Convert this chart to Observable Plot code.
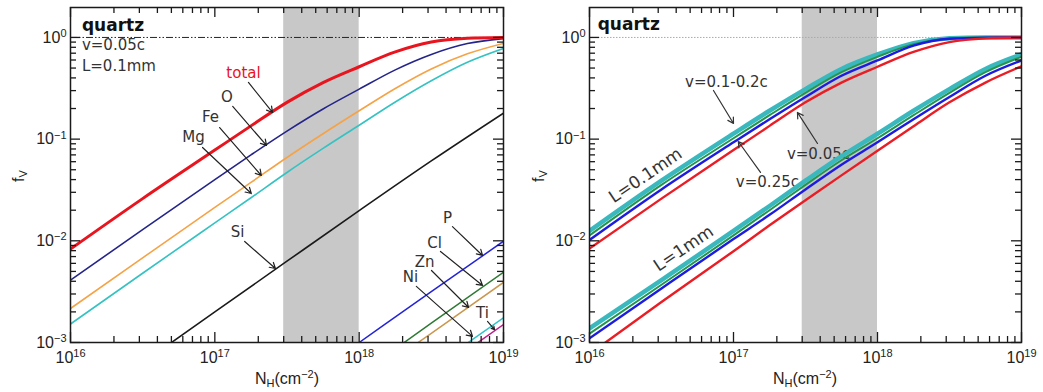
<!DOCTYPE html>
<html><head><meta charset="utf-8">
<script src="https://cdn.jsdelivr.net/npm/d3@7"></script>
<script src="https://cdn.jsdelivr.net/npm/@observablehq/plot@0.6"></script>
<style>
html,body{margin:0;padding:0;background:#fff;}
#wrap{position:relative;width:1043px;height:392px;overflow:hidden;background:#fff;}
#left{position:absolute;left:0;top:0;}
#right{position:absolute;left:521px;top:0;}
</style></head>
<body><div id="wrap"><div id="left"></div><div id="right"></div></div>
<script>
// ---------- data ----------
// column density grid (cm^-2)
const NH = [1e16, 3.16e16, 1e17, 1.78e17, 3.16e17, 5.62e17, 1e18, 1.78e18, 3.16e18, 5.62e18, 1e19];

// left panel: v=0.05c, L=0.1mm, per element
const fTotal = [0.0083, 0.026, 0.078, 0.135, 0.23, 0.36, 0.515, 0.72, 0.90, 0.98, 1.0];
const fO     = [0.0041, 0.0129, 0.040, 0.070, 0.12, 0.198, 0.31, 0.48, 0.68, 0.87, 0.975];
const fFe    = [0.00216, 0.0068, 0.0213, 0.0375, 0.066, 0.113, 0.19, 0.315, 0.49, 0.69, 0.875];
const fMg    = [0.00152, 0.0048, 0.0150, 0.0265, 0.047, 0.081, 0.137, 0.232, 0.375, 0.57, 0.78];
const nhSi = [3.16e16, 1e17, 3.16e17, 1e18, 3.16e18, 1e19];
const fSi  = [0.00063, 0.002, 0.0063, 0.0198, 0.061, 0.18];
const nhP = [6.3e17, 1e18, 3.16e18, 1e19];   const fP  = [0.00063, 0.001, 0.00316, 0.0099];
const nhCl = [1.26e18, 3.16e18, 1e19];       const fCl = [0.00061, 0.00155, 0.0049];
const nhZn = [1.58e18, 3.16e18, 1e19];       const fZn = [0.00062, 0.00123, 0.0039];
const nhNi = [3.98e18, 1e19];                const fNi = [0.0007, 0.00175];
const nhTi = [3.98e18, 1e19];                const fTi = [0.0006, 0.0015];

// right panel: velocities, L = 0.1 mm and L = 1 mm
const fV005_L01 = [0.0084, 0.026, 0.078, 0.135, 0.23, 0.36, 0.515, 0.72, 0.90, 0.98, 1.0];
const fV025_L01 = [0.0102, 0.032, 0.093, 0.157, 0.26, 0.42, 0.594, 0.83, 0.97, 0.997, 1.0];
const fV02_L01  = [0.0113, 0.0355, 0.102, 0.172, 0.285, 0.455, 0.645, 0.86, 0.975, 0.998, 1.0];
const fV01_L01  = [0.0125, 0.039, 0.113, 0.19, 0.31, 0.49, 0.68, 0.88, 0.98, 0.999, 1.0];
const fV005_L1 = [0.00077, 0.0025, 0.0079, 0.0142, 0.025, 0.044, 0.077, 0.134, 0.23, 0.36, 0.52];
const fV025_L1 = [0.0011, 0.0034, 0.0104, 0.018, 0.032, 0.056, 0.093, 0.157, 0.26, 0.42, 0.594];
const fV02_L1  = [0.00122, 0.0037, 0.0113, 0.020, 0.0355, 0.062, 0.102, 0.172, 0.285, 0.455, 0.645];
const fV01_L1  = [0.00138, 0.0041, 0.0125, 0.022, 0.039, 0.068, 0.113, 0.19, 0.31, 0.49, 0.68];

// shaded band (cm^-2)
const band = [{x1: 3e17, x2: 1e18}];

// annotations (data coordinates)
const leftLabels = ["total", "O", "Fe", "Mg", "Si", "P", "Cl", "Zn", "Ni", "Ti"];
const leftLabelN = [1.58e17, 1.21e17, 9.33e16, 7.11e16, 1.44e17, 4.09e18, 3.33e18, 2.84e18, 2.27e18, 7.16e18];
const leftLabelF = [0.443, 0.257, 0.163, 0.104, 0.0121, 0.0166, 0.00942, 0.00612, 0.00436, 0.00193];
const leftArrowN1 = [1.71e17, 1.33e17, 1.08e17, 8.22e16, 1.61e17, 4.43e18, 3.66e18, 3.17e18, 2.49e18, 7.75e18];
const leftArrowF1 = [0.361, 0.210, 0.130, 0.0828, 0.00985, 0.0138, 0.00786, 0.00511, 0.00356, 0.00161];
const leftArrowN2 = [2.51e17, 2.28e17, 2.10e17, 1.79e17, 2.63e17, 7.16e18, 7.16e18, 5.73e18, 6.10e18, 8.67e18];
const leftArrowF2 = [0.183, 0.0867, 0.0439, 0.0292, 0.00534, 0.00718, 0.00364, 0.00221, 0.00115, 0.00134];
const leftInfo = ["v=0.05c", "L=0.1mm"];
const leftInfoN = [1.2e16, 1.2e16];
const leftInfoF = [0.834, 0.519];

const rightLabels = ["v=0.1-0.2c", "v=0.25c", "v=0.05c"];
const rightLabelN = [8.93e16, 1.72e17, 3.89e17];
const rightLabelF = [0.361, 0.0375, 0.0707];
const rightArrowN1 = [7.26e16, 1.54e17, 3.83e17];
const rightArrowF1 = [0.301, 0.047, 0.0906];
const rightArrowN2 = [1.0e17, 1.08e17, 2.78e17];
const rightArrowF2 = [0.1426, 0.0948, 0.183];
const rightRot = ["L=0.1mm", "L=1mm"];
const rightRotN = [2.45e16, 4.5e16];
const rightRotF = [0.0439, 0.0084];

const title = "quartz";
const titleN = [1.2e16, 1.14e16];
const titleF = [1.30, 1.33];

const xMajor = [1e16, 1e17, 1e18, 1e19];
const yMajor = [1e-3, 1e-2, 1e-1, 1];
const minorDigits = [2, 3, 4, 5, 6, 7, 8, 9];
const xMinor = [1e16, 1e17, 1e18].flatMap(d => minorDigits.map(m => m * d));
const yMinor = [1e-3, 1e-2, 1e-1].flatMap(d => minorDigits.map(m => m * d));

// ---------- helpers ----------
const H = 392, MT = 7, MB = 50;
const fmt = d => "10^" + String(Math.round(Math.log10(d))).replace("-", "\u2212");
const rows = (xs, ys) => xs.map((x, i) => ({x, y: ys[i]}));
const SANS = "DejaVu Sans, Verdana, sans-serif";
const HELV = "Liberation Sans, Arial, Helvetica, sans-serif";

function frameMarks(width, mL, mR) {
  const fh = H - MT - MB, fw = width - mL - mR;
  const s = {stroke: "#1a1a1a", strokeWidth: 1.3};
  return [
    Plot.tickX(xMajor, {x: d => d, insetTop: fh - 10, ...s}),
    Plot.tickX(xMajor, {x: d => d, insetBottom: fh - 10, ...s}),
    Plot.tickX(xMinor, {x: d => d, insetTop: fh - 6, ...s}),
    Plot.tickX(xMinor, {x: d => d, insetBottom: fh - 6, ...s}),
    Plot.tickY(yMajor, {y: d => d, insetRight: fw - 10, ...s}),
    Plot.tickY(yMajor, {y: d => d, insetLeft: fw - 10, ...s}),
    Plot.tickY(yMinor, {y: d => d, insetRight: fw - 6, ...s}),
    Plot.tickY(yMinor, {y: d => d, insetLeft: fw - 6, ...s}),
    Plot.frame({stroke: "#1a1a1a", strokeWidth: 1.5}),
    Plot.axisX(xMajor, {tickSize: 0, tickPadding: 9, tickFormat: fmt, fontSize: 16, fontFamily: HELV, fill: "#222", label: null}),
    Plot.axisY(yMajor, {tickSize: 0, tickPadding: 4, tickFormat: fmt, fontSize: 16, fontFamily: HELV, fill: "#222", label: null})
  ];
}

function panel(width, mL, mR, marks) {
  return Plot.plot({
    width, height: H, marginLeft: mL, marginRight: mR, marginTop: MT, marginBottom: MB,
    x: {type: "log", domain: [1e16, 1e19]},
    y: {type: "log", domain: [1e-3, 1.97]},
    style: {background: "white", fontFamily: HELV, overflow: "visible"},
    marks: [...marks, ...frameMarks(width, mL, mR)]
  });
}

// turn "10^k" tick labels into 10 with a real superscript
function superscriptTicks(svg) {
  d3.select(svg).selectAll('g[aria-label="x-axis tick label"] text, g[aria-label="y-axis tick label"] text').each(function () {
    const s = this.textContent;
    const parts = s.split("^");
    if (parts.length !== 2) return;
    const el = d3.select(this);
    el.text(null);
    el.append("tspan").text(parts[0]);
    el.append("tspan").attr("dy", "-0.5em").attr("font-size", 11).text(parts[1]);
  });
}

function addAxisLabels(svg, xc, fx) {
  const g = d3.select(svg);
  const t = g.append("text").attr("x", xc).attr("y", 384).attr("text-anchor", "middle")
    .attr("font-family", HELV).attr("font-size", 16).attr("fill", "#222");
  t.append("tspan").text("N");
  t.append("tspan").attr("dy", 3).attr("font-size", 11).text("H");
  t.append("tspan").attr("dy", -3).text("(cm");
  t.append("tspan").attr("dy", -6).attr("font-size", 11).text("\u22122");
  t.append("tspan").attr("dy", 6).text(")");
  const y = g.append("text").attr("transform", `translate(${fx},176) rotate(-90)`).attr("text-anchor", "middle")
    .attr("font-family", HELV).attr("font-size", 16).attr("fill", "#222");
  y.append("tspan").text("f");
  y.append("tspan").attr("dy", 3).attr("font-size", 11).text("V");
}

const line = (data, stroke, strokeWidth) => Plot.line(data, {x: "x", y: "y", stroke, strokeWidth, curve: "monotone-x", clip: true});
const idx = a => a.map((_, i) => i);

// ---------- left panel ----------
const leftMarks = [
  Plot.rect(band, {x1: "x1", x2: "x2", fill: "#c8c8c8"}),
  Plot.ruleY([1], {stroke: "#222", strokeWidth: 1, strokeDasharray: "7,2,1.5,2,1.5,2"}),
  line(rows(nhSi, fSi), "#1a1a1a", 1.6),
  line(rows(nhP, fP), "#2323d8", 1.5),
  line(rows(nhCl, fCl), "#2e7a34", 1.5),
  line(rows(nhZn, fZn), "#c9974e", 1.5),
  line(rows(nhNi, fNi), "#2ec3c8", 1.5),
  line(rows(nhTi, fTi), "#c0208c", 1.5),
  line(rows(NH, fMg), "#35c2c2", 1.6),
  line(rows(NH, fFe), "#f5a346", 1.6),
  line(rows(NH, fO), "#24248a", 1.6),
  line(rows(NH, fTotal), "#e8141e", 3),
  Plot.arrow(idx(leftLabels), {x1: i => leftArrowN1[i], y1: i => leftArrowF1[i], x2: i => leftArrowN2[i], y2: i => leftArrowF2[i], stroke: "#222", strokeWidth: 1.2, headLength: 8}),
  Plot.text(idx(leftLabels), {x: i => leftLabelN[i], y: i => leftLabelF[i], text: i => leftLabels[i], fill: i => i === 0 ? "#e8141e" : "#333", fontSize: 15, fontFamily: SANS}),
  Plot.text(idx(leftInfo), {x: i => leftInfoN[i], y: i => leftInfoF[i], text: i => leftInfo[i], textAnchor: "start", fill: "#333", fontSize: 15, fontFamily: SANS}),
  Plot.text([title], {x: titleN[0], y: titleF[0], text: d => d, textAnchor: "start", fill: "#111", fontSize: 17, fontWeight: "bold", fontFamily: SANS})
];
const left = panel(521, 70, 18, leftMarks);
document.getElementById("left").append(left);
superscriptTicks(left);
addAxisLabels(left, 287, 24);

// ---------- right panel ----------
const rightMarks = [
  Plot.rect(band, {x1: "x1", x2: "x2", fill: "#c8c8c8"}),
  Plot.ruleY([1], {stroke: "#aaa", strokeWidth: 1, strokeDasharray: "1.5,1.5"}),
  Plot.text(idx(rightLabels), {x: i => rightLabelN[i], y: i => rightLabelF[i], text: i => rightLabels[i], fill: "#333", fontSize: 15, fontFamily: SANS}),
  Plot.text(idx(rightRot), {x: i => rightRotN[i], y: i => rightRotF[i], text: i => rightRot[i], rotate: -34, fill: "#333", fontSize: 17, fontFamily: SANS}),
  line(rows(NH, fV01_L1), "#3ab8be", 4.5),
  line(rows(NH, fV02_L1), "#23954a", 2),
  line(rows(NH, fV025_L1), "#1c1ce0", 2.4),
  line(rows(NH, fV005_L1), "#ea1c24", 2.4),
  line(rows(NH, fV01_L01), "#3ab8be", 4.5),
  line(rows(NH, fV02_L01), "#23954a", 2),
  line(rows(NH, fV025_L01), "#1c1ce0", 2.4),
  line(rows(NH, fV005_L01), "#ea1c24", 2.4),
  Plot.arrow(idx(rightLabels), {x1: i => rightArrowN1[i], y1: i => rightArrowF1[i], x2: i => rightArrowN2[i], y2: i => rightArrowF2[i], stroke: "#333", strokeWidth: 1.2, headLength: 8}),
  Plot.text([title], {x: titleN[1], y: titleF[1], text: d => d, textAnchor: "start", fill: "#111", fontSize: 17, fontWeight: "bold", fontFamily: SANS})
];
const right = panel(522, 68, 22, rightMarks);
document.getElementById("right").append(right);
superscriptTicks(right);
addAxisLabels(right, 284, 23);
</script>
</body></html>
